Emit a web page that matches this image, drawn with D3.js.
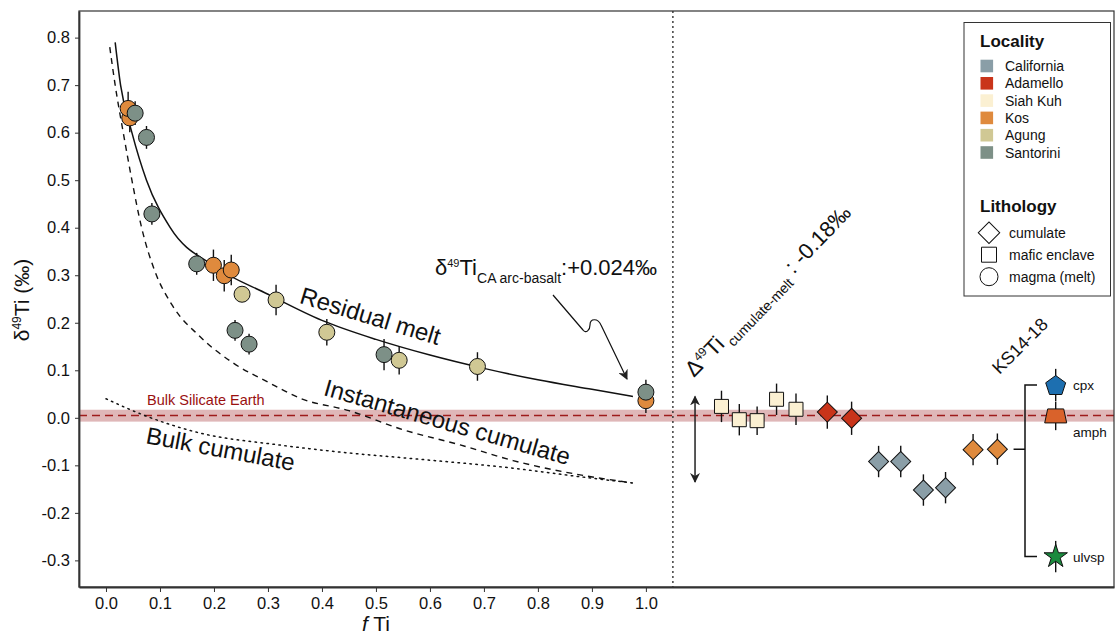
<!doctype html>
<html>
<head>
<meta charset="utf-8">
<script src="https://d3js.org/d3.v7.min.js"></script>
<style>
  body { margin: 0; background: #fff; }
  svg text { font-family: "Liberation Sans", Arial, Helvetica, sans-serif; fill: #111; }
  .tick line, .domain { stroke: #333; }
</style>
</head>
<body>
<svg width="1116" height="634"></svg>
<script>

// axis ticks
var xTickValues = [0, 0.1, 0.2, 0.3, 0.4, 0.5, 0.6, 0.7, 0.8, 0.9, 1.0];
var yTickValues = [-0.3, -0.2, -0.1, 0, 0.1, 0.2, 0.3, 0.4, 0.5, 0.6, 0.7, 0.8];

// localities
var localities = ["California", "Adamello", "Siah Kuh", "Kos", "Agung", "Santorini"];
var localityColors = ["#8a9ea7", "#c9341a", "#fbf0d2", "#df8a3d", "#d0c894", "#7d9087"];
var lithologies = ["cumulate", "mafic enclave", "magma (melt)"];

// magma (melt) samples: f Ti vs d49Ti
var magmaLoc = ["Kos", "Kos", "Kos", "Kos", "Kos", "Kos",
  "Santorini", "Santorini", "Santorini", "Santorini", "Santorini", "Santorini", "Santorini", "Santorini",
  "Agung", "Agung", "Agung", "Agung", "Agung"];
var magmaF = [0.044, 0.041, 0.199, 0.219, 0.232, 1.0,
  0.054, 0.075, 0.085, 0.168, 0.239, 0.265, 0.515, 1.0,
  0.252, 0.315, 0.409, 0.543, 0.688];
var magmaD = [0.631, 0.651, 0.321, 0.299, 0.311, 0.036,
  0.641, 0.590, 0.429, 0.324, 0.184, 0.155, 0.133, 0.054,
  0.260, 0.248, 0.180, 0.121, 0.108];
var magmaErr = [0.03, 0.035, 0.033, 0.033, 0.032, 0.026,
  0.025, 0.024, 0.023, 0.023, 0.022, 0.022, 0.033, 0.026,
  0.012, 0.032, 0.028, 0.03, 0.03];

// model curves
var meltCurveF = [0.017, 0.027, 0.048, 0.075, 0.119, 0.199, 0.3, 0.4, 0.5, 0.6, 0.7, 0.8, 0.9, 0.976];
var meltCurveD = [0.79, 0.70, 0.60, 0.50, 0.40, 0.32, 0.26, 0.205, 0.165, 0.132, 0.104, 0.08, 0.06, 0.045];
var instCurveF = [0.007, 0.017, 0.032, 0.048, 0.066, 0.09, 0.122, 0.174, 0.236, 0.3, 0.36, 0.45, 0.55, 0.656, 0.754, 0.878, 0.975];
var instCurveD = [0.78, 0.70, 0.60, 0.50, 0.40, 0.31, 0.238, 0.171, 0.115, 0.075, 0.041, 0.015, -0.025, -0.057, -0.09, -0.12, -0.137];
var bulkCurveF = [0.0, 0.069, 0.174, 0.32, 0.45, 0.569, 0.754, 0.878, 0.975];
var bulkCurveD = [0.04, 0.006, -0.032, -0.057, -0.074, -0.086, -0.106, -0.124, -0.137];

// cumulates and mafic enclaves (right panel)
var sampleLoc = ["Siah Kuh", "Siah Kuh", "Siah Kuh", "Siah Kuh", "Siah Kuh",
  "Adamello", "Adamello", "California", "California", "California", "California", "Kos", "Kos"];
var sampleLith = ["mafic enclave", "mafic enclave", "mafic enclave", "mafic enclave", "mafic enclave",
  "cumulate", "cumulate", "cumulate", "cumulate", "cumulate", "cumulate", "cumulate", "cumulate"];
var sampleX = [1.140, 1.173, 1.206, 1.242, 1.278, 1.336, 1.381, 1.431, 1.472, 1.514, 1.555, 1.606, 1.651];
var sampleD = [0.024, -0.004, -0.006, 0.039, 0.018, 0.012, -0.001, -0.092, -0.092, -0.152, -0.147, -0.067, -0.066];
var sampleErr = [0.033, 0.033, 0.03, 0.033, 0.033, 0.035, 0.035, 0.033, 0.033, 0.033, 0.033, 0.033, 0.033];

// KS14-18 mineral separates
var mineralNames = ["cpx", "amph", "ulvsp"];
var mineralColors = ["#1d6fb0", "#d9622b", "#1b8a3e"];
var mineralD = [0.069, 0.004, -0.292];
var mineralErr = [0.034, 0.03, 0.033];
var mineralX = 1.759;
var ksBulkD = -0.066;

var bse = 0.005, bseLow = -0.008, bseHigh = 0.017;
var caArcBasalt = 0.024, deltaCumMelt = -0.18, arrowTop = 0.045, arrowX = 1.091;
var splitX = 1.05;

var svg = d3.select("svg");
var pLeft = 79, pRight = 1114, pTop = 11, pBottom = 587;

var x = d3.scaleLinear().domain([-0.05, 1.867]).range([pLeft, pRight]);
var y = d3.scaleLinear().domain([-0.356, 0.856]).range([pBottom, pTop]);
var color = d3.scaleOrdinal().domain(localities).range(localityColors);

// BSE band
svg.append("rect")
  .attr("x", pLeft).attr("width", pRight - pLeft)
  .attr("y", y(bseHigh)).attr("height", y(bseLow) - y(bseHigh))
  .attr("fill", "#dfb7b8");
svg.append("line")
  .attr("x1", pLeft).attr("x2", pRight).attr("y1", y(bse)).attr("y2", y(bse))
  .attr("stroke", "#9e1b1b").attr("stroke-width", 1.5).attr("stroke-dasharray", "8,5");
svg.append("text").attr("x", 147).attr("y", y(bse) - 10)
  .style("font-size", "14.5px").style("fill", "#9a1010").text("Bulk Silicate Earth");

// split line
svg.append("line")
  .attr("x1", x(splitX)).attr("x2", x(splitX)).attr("y1", pTop).attr("y2", pBottom)
  .attr("stroke", "#222").attr("stroke-width", 1.3).attr("stroke-dasharray", "2,3");

// model curves
var line = d3.line().x(function(d) { return x(d[0]); }).y(function(d) { return y(d[1]); }).curve(d3.curveMonotoneX);
svg.append("path").datum(d3.zip(meltCurveF, meltCurveD))
  .attr("d", line).attr("fill", "none").attr("stroke", "#111").attr("stroke-width", 1.5);
svg.append("path").datum(d3.zip(instCurveF, instCurveD))
  .attr("d", line).attr("fill", "none").attr("stroke", "#111").attr("stroke-width", 1.4).attr("stroke-dasharray", "6,5");
svg.append("path").datum(d3.zip(bulkCurveF, bulkCurveD))
  .attr("d", line).attr("fill", "none").attr("stroke", "#111").attr("stroke-width", 1.5)
  .attr("stroke-dasharray", "1.5,4.5").attr("stroke-linecap", "round");

// curve labels
function curveLabel(txt, cx, cy, ang) {
  svg.append("text").attr("x", cx).attr("y", cy)
    .attr("text-anchor", "middle")
    .attr("transform", "rotate(" + ang + "," + cx + "," + cy + ")")
    .style("font-size", "24px").text(txt);
}
curveLabel("Residual melt", 368, 324, 17);
curveLabel("Instantaneous cumulate", 445, 430, 16);
curveLabel("Bulk cumulate", 219, 457, 10.6);

// magma points
var magma = magmaF.map(function(f, i) { return {f: f, d: magmaD[i], e: magmaErr[i], loc: magmaLoc[i]}; });
svg.append("g").selectAll("line").data(magma).join("line")
  .attr("x1", function(d) { return x(d.f); }).attr("x2", function(d) { return x(d.f); })
  .attr("y1", function(d) { return y(d.d + d.e); }).attr("y2", function(d) { return y(d.d - d.e); })
  .attr("stroke", "#111").attr("stroke-width", 1.4);
svg.append("g").selectAll("circle").data(magma).join("circle")
  .attr("cx", function(d) { return x(d.f); }).attr("cy", function(d) { return y(d.d); })
  .attr("r", 8).attr("fill", function(d) { return color(d.loc); })
  .attr("stroke", "#111").attr("stroke-width", 1);

// right panel samples
var samples = sampleX.map(function(v, i) { return {x: v, d: sampleD[i], e: sampleErr[i], loc: sampleLoc[i], lith: sampleLith[i]}; });
svg.append("g").selectAll("line").data(samples).join("line")
  .attr("x1", function(d) { return x(d.x); }).attr("x2", function(d) { return x(d.x); })
  .attr("y1", function(d) { return y(d.d + d.e); }).attr("y2", function(d) { return y(d.d - d.e); })
  .attr("stroke", "#111").attr("stroke-width", 1.4);
var sq = d3.symbol().type(d3.symbolSquare).size(196);
var dm = d3.symbol().type(d3.symbolSquare).size(200);
svg.append("g").selectAll("path").data(samples).join("path")
  .attr("d", function(d) { return d.lith == "cumulate" ? dm() : sq(); })
  .attr("transform", function(d) {
    return "translate(" + x(d.x) + "," + y(d.d) + ")" + (d.lith == "cumulate" ? " rotate(45)" : "");
  })
  .attr("fill", function(d) { return color(d.loc); })
  .attr("stroke", "#111").attr("stroke-width", 1);

// KS14-18 bracket
var bx = 1025;
svg.append("path")
  .attr("d", "M" + x(1.681) + "," + y(ksBulkD) + "H" + bx +
    "M" + 1037 + "," + y(mineralD[0]) + "H" + bx + "V" + y(mineralD[2]) + "H" + 1037)
  .attr("fill", "none").attr("stroke", "#111").attr("stroke-width", 1.5);

// minerals
svg.append("g").selectAll("line").data(mineralD).join("line")
  .attr("x1", x(mineralX)).attr("x2", x(mineralX))
  .attr("y1", function(d, i) { return y(d + mineralErr[i]); })
  .attr("y2", function(d, i) { return y(d - mineralErr[i]); })
  .attr("stroke", "#111").attr("stroke-width", 1.4);
var pent = [];
for (var k = 0; k < 5; k++) {
  var a = -Math.PI / 2 + k * 2 * Math.PI / 5;
  pent.push([10.5 * Math.cos(a), 10.5 * Math.sin(a) + 1]);
}
var mineralShapes = [
  "M" + pent.join("L") + "Z",
  "M-8,-7L8,-7L11,7L-11,7Z",
  d3.symbol().type(d3.symbolStar).size(170)()
];
svg.append("g").selectAll("path").data(mineralD).join("path")
  .attr("d", function(d, i) { return mineralShapes[i]; })
  .attr("transform", function(d) { return "translate(" + x(mineralX) + "," + y(d) + ")"; })
  .attr("fill", function(d, i) { return mineralColors[i]; })
  .attr("stroke", "#111").attr("stroke-width", 1);
var mlabY = [y(mineralD[0]), y(mineralD[1]) + 16, y(mineralD[2])];
svg.append("g").selectAll("text").data(mineralNames).join("text")
  .attr("x", 1073).attr("y", function(d, i) { return mlabY[i] + 5; })
  .style("font-size", "13.5px").text(function(d) { return d; });

svg.append("text").attr("x", 1020).attr("y", 352).attr("text-anchor", "middle")
  .attr("transform", "rotate(-45,1020,346)").style("font-size", "18px").text("KS14-18");

// delta arrow
var defs = svg.append("defs");
defs.append("marker").attr("id", "head").attr("viewBox", "0 0 10 10")
  .attr("refX", 9).attr("refY", 5).attr("markerWidth", 10).attr("markerHeight", 10)
  .attr("markerUnits", "userSpaceOnUse").attr("orient", "auto-start-reverse")
  .append("path").attr("d", "M0,0L10,5L0,10L3,5Z").attr("fill", "#222");
svg.append("line")
  .attr("x1", x(arrowX)).attr("x2", x(arrowX))
  .attr("y1", y(arrowTop)).attr("y2", y(arrowTop + deltaCumMelt))
  .attr("stroke", "#222").attr("stroke-width", 1.5)
  .attr("marker-start", "url(#head)").attr("marker-end", "url(#head)");

var dl = svg.append("text").attr("x", 694).attr("y", 378)
  .attr("transform", "rotate(-46,694,378)").style("font-size", "22px");
dl.append("tspan").text("Δ");
dl.append("tspan").attr("dy", -8).style("font-size", "12px").text("49");
dl.append("tspan").attr("dy", 8).text("Ti");
dl.append("tspan").attr("dy", 7).attr("dx", 4).style("font-size", "14px").text("cumulate-melt");
dl.append("tspan").attr("dy", -7).text("\u00a0:\u00a0" + deltaCumMelt.toFixed(2) + "‰");

// CA arc basalt annotation
var ann = svg.append("text").attr("x", 435).attr("y", 275).style("font-size", "22px");
ann.append("tspan").text("δ");
ann.append("tspan").attr("dy", -8).style("font-size", "11px").text("49");
ann.append("tspan").attr("dy", 8).text("Ti");
ann.append("tspan").attr("dy", 8).style("font-size", "14px").text("CA arc-basalt");
ann.append("tspan").attr("dy", -8).text(":+" + caArcBasalt.toFixed(3) + "‰");

svg.append("path")
  .attr("d", "M553,295L583,330C586,334 590,330 590,325C590,318 598,318 601,325L627,379")
  .attr("fill", "none").attr("stroke", "#111").attr("stroke-width", 1.2)
  .attr("marker-end", "url(#head)");

// frame and axes
svg.append("rect").attr("x", pLeft).attr("y", pTop).attr("width", pRight - pLeft).attr("height", pBottom - pTop)
  .attr("fill", "none").attr("stroke", "#333").attr("stroke-width", 1.2);
var fmt = function(d) { return d.toFixed(1); };
var xAxis = svg.append("g").attr("transform", "translate(0," + pBottom + ")")
  .call(d3.axisBottom(x).tickValues(xTickValues).tickFormat(fmt).tickSize(5).tickSizeOuter(0).tickPadding(5));
var yAxis = svg.append("g").attr("transform", "translate(" + pLeft + ",0)")
  .call(d3.axisLeft(y).tickValues(yTickValues).tickFormat(fmt).tickSize(4).tickSizeOuter(0).tickPadding(5));
[xAxis, yAxis].forEach(function(g) {
  g.attr("font-size", 16.5).attr("font-family", null);
  g.select(".domain").attr("stroke-width", 1.8);
  g.selectAll(".tick text").attr("fill", "#111");
});

var xt = svg.append("text").attr("x", x(0.5)).attr("y", 631).attr("text-anchor", "middle").style("font-size", "21px");
xt.append("tspan").style("font-style", "italic").text("f");
xt.append("tspan").text(" Ti");

var yt = svg.append("text").attr("transform", "translate(29,300) rotate(-90)")
  .attr("text-anchor", "middle").style("font-size", "21px");
yt.append("tspan").text("δ");
yt.append("tspan").attr("dy", -8).style("font-size", "12px").text("49");
yt.append("tspan").attr("dy", 8).text("Ti (‰)");

// legend
var lg = svg.append("g");
lg.append("rect").attr("x", 964).attr("y", 22.5).attr("width", 146.5).attr("height", 273.5)
  .attr("fill", "#fff").attr("stroke", "#333").attr("stroke-width", 1);
lg.append("text").attr("x", 980).attr("y", 46.5).style("font-size", "17px").style("font-weight", "bold").text("Locality");
localities.forEach(function(l, i) {
  var cy = 66 + i * 17.3;
  lg.append("rect").attr("x", 980.5).attr("y", cy - 6.3).attr("width", 12.6).attr("height", 12.6).attr("fill", color(l));
  lg.append("text").attr("x", 1005).attr("y", cy + 5).style("font-size", "14px").text(l);
});
lg.append("text").attr("x", 980).attr("y", 212).style("font-size", "17px").style("font-weight", "bold").text("Lithology");
var lithShapes = [
  d3.symbol().type(d3.symbolSquare).size(230)(),
  d3.symbol().type(d3.symbolSquare).size(225)(),
  d3.symbol().type(d3.symbolCircle).size(255)()
];
lithologies.forEach(function(l, i) {
  var cy = 232.7 + i * 22;
  lg.append("path").attr("d", lithShapes[i])
    .attr("transform", "translate(989," + cy + ")" + (i == 0 ? " rotate(45)" : ""))
    .attr("fill", "none").attr("stroke", "#111").attr("stroke-width", 1);
  lg.append("text").attr("x", 1009).attr("y", cy + 5).style("font-size", "14px").text(l);
});

</script>
</body>
</html>
